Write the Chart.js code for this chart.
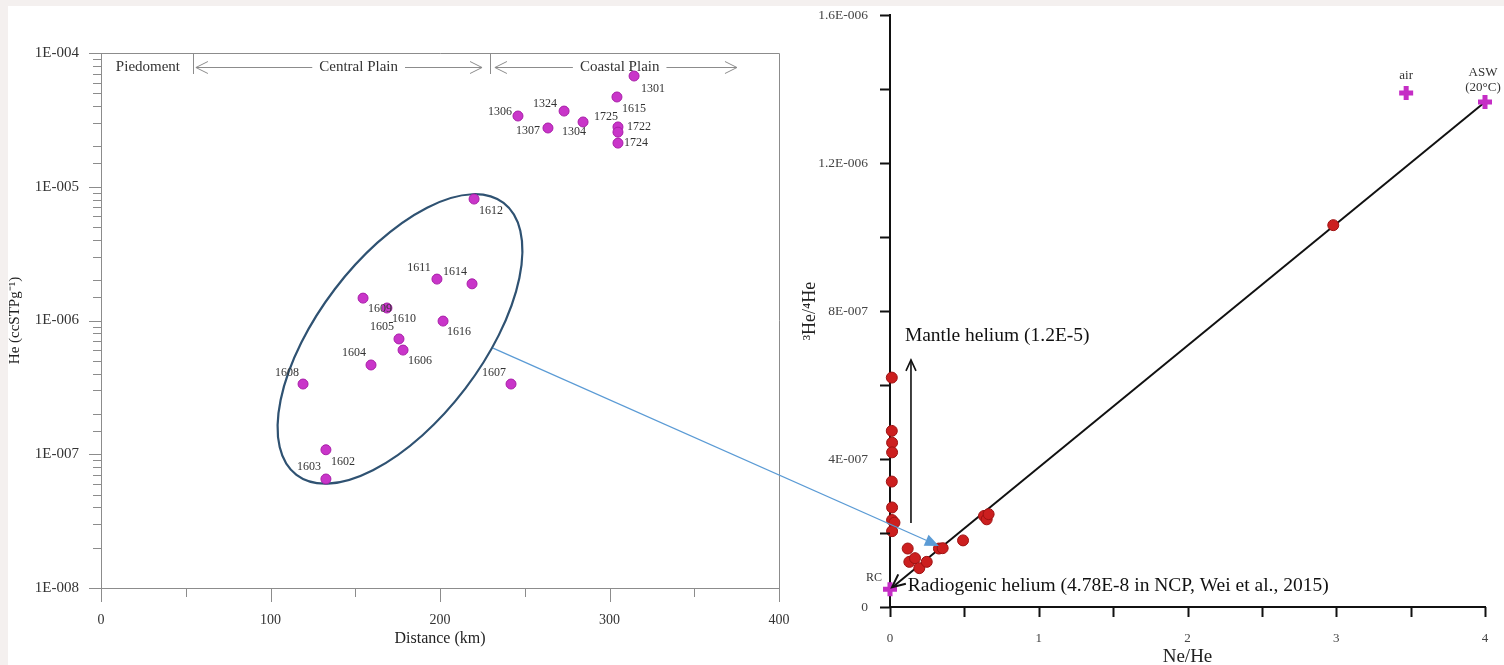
<!DOCTYPE html>
<html>
<head>
<meta charset="utf-8">
<script src="https://cdn.jsdelivr.net/npm/chart.js@4.4.0/dist/chart.umd.min.js"></script>
<style>
  html, body { margin: 0; padding: 0; background: #fff; }
  #wrap { position: relative; width: 1504px; height: 665px; overflow: hidden; background: #fff; }
  #topband { position: absolute; left: 0; top: 0; width: 1504px; height: 6px; background: #f4f0ef; }
  #leftband { position: absolute; left: 0; top: 0; width: 8px; height: 665px; background: #f4f0ef; }
  #heChart { position: absolute; left: 0; top: 0; }
  #neChart { position: absolute; left: 790px; top: 0; }
  #link { position: absolute; left: 0; top: 0; pointer-events: none; }
</style>
</head>
<body>
<div id="wrap">
  <div id="topband"></div>
  <div id="leftband"></div>
  <canvas id="heChart" width="800" height="665"></canvas>
  <canvas id="neChart" width="714" height="665"></canvas>
  <canvas id="link" width="1504" height="665"></canvas>
</div>
<script>
// ---- left panel: He concentration vs distance ----
const sampleIds = ["1301", "1615", "1324", "1306", "1304", "1307", "1725", "1722", "1724",
  "1612", "1611", "1614", "1609", "1610", "1616", "1605", "1606", "1604", "1608", "1607", "1602", "1603"];
const distanceKm = [314.5, 304.4, 273.2, 246.0, 284.4, 263.7, 305.0, 305.0, 305.0,
  220.1, 198.2, 218.9, 154.6, 168.7, 201.8, 175.8, 178.2, 159.3, 119.2, 241.9, 132.7, 132.7];
const heConc = [6.73e-5, 4.69e-5, 3.68e-5, 3.38e-5, 3.05e-5, 2.75e-5, 2.80e-5, 2.56e-5, 2.12e-5,
  8.09e-6, 2.04e-6, 1.88e-6, 1.47e-6, 1.24e-6, 9.9e-7, 7.28e-7, 6.01e-7, 4.65e-7, 3.35e-7, 3.35e-7, 1.08e-7, 6.53e-8];

const regionNames = ["Piedoment", "Central Plain", "Coastal Plain"];
const regionBounds = [54.3, 229.5]; // km

// ---- right panel: 3He/4He vs Ne/He ----
const neHe = [0.012, 0.012, 0.014, 0.014, 0.012, 0.014, 0.014, 0.03, 0.014,
  0.119, 0.130, 0.168, 0.197, 0.247, 0.329, 0.354, 0.491, 0.632, 0.650, 0.663, 2.98];
const he3he4 = [6.2e-7, 4.76e-7, 4.44e-7, 4.18e-7, 3.39e-7, 2.69e-7, 2.35e-7, 2.28e-7, 2.05e-7,
  1.58e-7, 1.22e-7, 1.32e-7, 1.05e-7, 1.22e-7, 1.58e-7, 1.59e-7, 1.80e-7, 2.46e-7, 2.37e-7, 2.51e-7, 1.032e-6];

const endNames = ["RC", "air", "ASW"];
const endNeHe = [0, 3.47, 4.0];
const endHe3he4 = [4.78e-8, 1.389e-6, 1.365e-6];

const mantleArrow = { x: 0.141, from: 2.27e-7, to: 6.68e-7 };

// ---- layout bits (pixels / styling, kept apart from the data) ----
const serif = "'Liberation Serif', 'Times New Roman', serif";
const labelOffsets = [[19, 13], [17, 12], [-19, -7], [-18, -4], [-9, 10], [-20, 3], [-12, -10], [21, -5], [18, 0],
  [17, 12], [-18, -11], [-17, -12], [17, 11], [17, 11], [16, 11], [-17, -12], [17, 11], [-17, -12], [-16, -11],
  [-17, -11], [17, 12], [-17, -12]];
const regionTextX = [27.7, 152, 306];
const regionArrows = [null, [56, 224.8], [232.4, 375.2]];
const ellipseCenter = [176.4, 7.28e-7];
const ellipseTip = [237.5, 7.56e-6];
const ellipseRatio = 0.48;
const linkFrom = [231.3, 6.22e-7];
const linkTo = [0.329, 1.65e-7];

function sciFmt(v) {
  if (v === 0) return "0";
  const parts = Number(v.toPrecision(2)).toExponential().split("e");
  const exp = parseInt(parts[1], 10);
  return parts[0] + "E" + (exp < 0 ? "-" : "+") + String(Math.abs(exp)).padStart(3, "0");
}

function isDecade(v) {
  const e = Math.log10(v);
  return Math.abs(e - Math.round(e)) < 1e-6;
}

// fixed axis boxes, no extra label padding pushed into the layout
function fixBox(size) {
  return function (s) {
    if (s.isHorizontal()) s.height = size; else s.width = size;
    s.paddingLeft = s.paddingRight = s.paddingTop = s.paddingBottom = 0;
  };
}

function chevron(ctx, tx, ty, ang, len, half) {
  const bx = tx - Math.cos(ang) * len, by = ty - Math.sin(ang) * len;
  const nx = -Math.sin(ang) * half, ny = Math.cos(ang) * half;
  ctx.beginPath();
  ctx.moveTo(bx + nx, by + ny);
  ctx.lineTo(tx, ty);
  ctx.lineTo(bx - nx, by - ny);
  ctx.stroke();
}

const tickMarks = {
  id: "tickMarks",
  afterDraw(chart, args, opts) {
    const ctx = chart.ctx;
    const { x, y } = chart.scales;
    ctx.save();
    ctx.strokeStyle = opts.color;
    ctx.lineWidth = opts.width;
    x.ticks.forEach(t => {
      const px = Math.round(x.getPixelForValue(t.value)) + 0.5;
      ctx.beginPath();
      ctx.moveTo(px, x.top);
      ctx.lineTo(px, x.top + opts.xLen(t.value));
      ctx.stroke();
    });
    y.ticks.forEach(t => {
      const py = Math.round(y.getPixelForValue(t.value)) + 0.5;
      ctx.beginPath();
      ctx.moveTo(y.right, py);
      ctx.lineTo(y.right - opts.yLen(t.value), py);
      ctx.stroke();
    });
    ctx.restore();
  }
};

const heDecor = {
  id: "heDecor",
  beforeDatasetsDraw(chart) {
    const ctx = chart.ctx;
    const xs = chart.scales.x, ys = chart.scales.y;
    const area = chart.chartArea;
    ctx.save();
    // frame top / right
    ctx.strokeStyle = "#8c8c8c";
    ctx.lineWidth = 1;
    ctx.beginPath();
    ctx.moveTo(area.left, area.top + 0.5);
    ctx.lineTo(area.right + 0.5, area.top + 0.5);
    ctx.lineTo(area.right + 0.5, area.bottom);
    ctx.stroke();

    // region strip
    const rowY = area.top + 14;
    regionBounds.forEach(b => {
      const px = Math.round(xs.getPixelForValue(b)) + 0.5;
      ctx.beginPath();
      ctx.moveTo(px, area.top);
      ctx.lineTo(px, area.top + 21);
      ctx.stroke();
    });
    ctx.font = "15px " + serif;
    ctx.fillStyle = "#333";
    ctx.textAlign = "center";
    ctx.textBaseline = "middle";
    regionNames.forEach((name, i) => {
      const tx = xs.getPixelForValue(regionTextX[i]);
      ctx.fillText(name, tx, rowY);
      const arr = regionArrows[i];
      if (!arr) return;
      const w = ctx.measureText(name).width / 2 + 7;
      const a0 = xs.getPixelForValue(arr[0]), a1 = xs.getPixelForValue(arr[1]);
      ctx.strokeStyle = "#8c8c8c";
      ctx.lineWidth = 1;
      ctx.beginPath();
      ctx.moveTo(a0, rowY + 0.5); ctx.lineTo(tx - w, rowY + 0.5);
      ctx.moveTo(tx + w, rowY + 0.5); ctx.lineTo(a1, rowY + 0.5);
      ctx.stroke();
      chevron(ctx, a0, rowY + 0.5, Math.PI, 12, 6);
      chevron(ctx, a1, rowY + 0.5, 0, 12, 6);
    });

    // cluster ellipse
    const c = { x: xs.getPixelForValue(ellipseCenter[0]), y: ys.getPixelForValue(ellipseCenter[1]) };
    const e = { x: xs.getPixelForValue(ellipseTip[0]), y: ys.getPixelForValue(ellipseTip[1]) };
    const a = Math.hypot(e.x - c.x, e.y - c.y);
    ctx.strokeStyle = "#2f5272";
    ctx.lineWidth = 2.2;
    ctx.beginPath();
    ctx.ellipse(c.x, c.y, a, a * ellipseRatio, Math.atan2(e.y - c.y, e.x - c.x), 0, Math.PI * 2);
    ctx.stroke();
    ctx.restore();
  },
  afterDatasetsDraw(chart) {
    const ctx = chart.ctx;
    const meta = chart.getDatasetMeta(0);
    ctx.save();
    ctx.font = "12px " + serif;
    ctx.fillStyle = "#333";
    ctx.textAlign = "center";
    ctx.textBaseline = "middle";
    meta.data.forEach((pt, i) => {
      ctx.fillText(sampleIds[i], pt.x + labelOffsets[i][0], pt.y + labelOffsets[i][1]);
    });
    ctx.restore();
  }
};

const heChart = new Chart(document.getElementById("heChart"), {
  type: "scatter",
  data: {
    datasets: [{
      data: distanceKm.map((d, i) => ({ x: d, y: heConc[i] })),
      backgroundColor: "#c935c9",
      borderColor: "#a81fa8",
      borderWidth: 1,
      pointRadius: 5,
      clip: false
    }]
  },
  options: {
    responsive: false,
    animation: false,
    layout: { padding: { left: 0, top: 53, right: 21, bottom: 0 } },
    plugins: {
      legend: { display: false },
      tooltip: { enabled: false },
      tickMarks: {
        color: "#8c8c8c", width: 1,
        xLen: v => (v % 100 === 0 ? 14 : 9),
        yLen: v => (isDecade(v) ? 12 : 8)
      }
    },
    scales: {
      x: {
        type: "linear", min: 0, max: 400,
        afterFit: fixBox(77),
        grid: { display: false, drawTicks: false },
        border: { display: true, color: "#8c8c8c", width: 1 },
        ticks: {
          stepSize: 50, autoSkip: false, maxRotation: 0, padding: 24,
          color: "#333", font: { family: serif, size: 14 },
          callback: v => (v % 100 === 0 ? String(v) : "")
        },
        title: { display: true, text: "Distance (km)", color: "#222", font: { family: serif, size: 16 }, padding: { top: 0, bottom: 17 } }
      },
      y: {
        type: "logarithmic", min: 1e-8, max: 1e-4,
        afterFit: fixBox(101),
        grid: { display: false, drawTicks: false },
        border: { display: true, color: "#8c8c8c", width: 1 },
        ticks: {
          autoSkip: false, padding: 22,
          color: "#333", font: { family: serif, size: 15 },
          callback: v => (isDecade(v) ? sciFmt(v) : "")
        },
        title: { display: true, text: "He (ccSTPg⁻¹)", color: "#222", font: { family: serif, size: 15 }, padding: { top: 6, bottom: 0 } }
      }
    }
  },
  plugins: [tickMarks, heDecor]
});

const neDecor = {
  id: "neDecor",
  afterDatasetsDraw(chart) {
    const ctx = chart.ctx;
    const xs = chart.scales.x, ys = chart.scales.y;
    ctx.save();
    ctx.strokeStyle = "#111";
    ctx.fillStyle = "#111";

    // arrow head of mixing line, pointing to RC
    const rc = { x: xs.getPixelForValue(endNeHe[0]), y: ys.getPixelForValue(endHe3he4[0]) };
    const asw = { x: xs.getPixelForValue(endNeHe[2]), y: ys.getPixelForValue(endHe3he4[2]) };
    ctx.lineWidth = 2;
    chevron(ctx, rc.x + 2, rc.y - 2, Math.atan2(rc.y - asw.y, rc.x - asw.x), 13, 6);

    // mantle arrow
    const mx = xs.getPixelForValue(mantleArrow.x);
    const my0 = ys.getPixelForValue(mantleArrow.from), my1 = ys.getPixelForValue(mantleArrow.to);
    ctx.lineWidth = 1.6;
    ctx.beginPath();
    ctx.moveTo(mx, my0);
    ctx.lineTo(mx, my1);
    ctx.stroke();
    chevron(ctx, mx, my1, -Math.PI / 2, 11, 5);

    ctx.textBaseline = "middle";
    ctx.textAlign = "left";
    ctx.font = "19.5px " + serif;
    ctx.fillText("Mantle helium (1.2E-5)", xs.getPixelForValue(0.10), ys.getPixelForValue(7.32e-7));
    ctx.fillText("Radiogenic helium (4.78E-8 in NCP, Wei et al., 2015)", xs.getPixelForValue(0.12), ys.getPixelForValue(5.68e-8));

    // end-member labels
    ctx.font = "12px " + serif;
    ctx.fillStyle = "#333";
    ctx.textAlign = "right";
    ctx.fillText(endNames[0], rc.x - 8, rc.y - 11);
    ctx.textAlign = "center";
    ctx.font = "13px " + serif;
    const air = { x: xs.getPixelForValue(endNeHe[1]), y: ys.getPixelForValue(endHe3he4[1]) };
    ctx.fillText(endNames[1], air.x, air.y - 17);
    ctx.fillText(endNames[2], asw.x - 2, asw.y - 29);
    ctx.fillText("(20°C)", asw.x - 2, asw.y - 14);
    ctx.restore();
  }
};

const neChart = new Chart(document.getElementById("neChart"), {
  type: "scatter",
  data: {
    datasets: [
      {
        data: neHe.map((v, i) => ({ x: v, y: he3he4[i] })),
        backgroundColor: "#cc1f1f",
        borderColor: "#9e1212",
        borderWidth: 1,
        pointRadius: 5.5,
        clip: false
      },
      {
        data: endNeHe.map((v, i) => ({ x: v, y: endHe3he4[i] })),
        pointStyle: "cross",
        pointRadius: 7,
        borderWidth: 5,
        borderColor: "#c52dc5",
        backgroundColor: "#c52dc5",
        clip: false
      },
      {
        type: "line",
        data: [{ x: endNeHe[0], y: endHe3he4[0] }, { x: endNeHe[2], y: endHe3he4[2] }],
        borderColor: "#111",
        borderWidth: 2,
        pointRadius: 0,
        fill: false,
        clip: false
      }
    ]
  },
  options: {
    responsive: false,
    animation: false,
    layout: { padding: { left: 0, top: 15, right: 19, bottom: 0 } },
    plugins: {
      legend: { display: false },
      tooltip: { enabled: false },
      tickMarks: { color: "#111", width: 2, xLen: () => 10, yLen: () => 10 }
    },
    scales: {
      x: {
        type: "linear", min: 0, max: 4,
        afterFit: fixBox(58),
        grid: { display: false, drawTicks: false },
        border: { display: true, color: "#111", width: 2 },
        ticks: {
          stepSize: 0.5, autoSkip: false, maxRotation: 0, padding: 24,
          color: "#444", font: { family: serif, size: 13 },
          callback: v => (Math.abs(v - Math.round(v)) < 1e-9 ? String(Math.round(v)) : "")
        },
        title: { display: true, text: "Ne/He", color: "#222", font: { family: serif, size: 19, lineHeight: 0.8 }, padding: { top: 0, bottom: 0 } }
      },
      y: {
        type: "linear", min: 0, max: 1.6e-6,
        afterFit: fixBox(100),
        grid: { display: false, drawTicks: false },
        border: { display: true, color: "#111", width: 2 },
        ticks: {
          stepSize: 2e-7, autoSkip: false, padding: 22,
          color: "#444", font: { family: serif, size: 13.5 },
          callback: v => (Math.round(v / 2e-7) % 2 === 0 ? sciFmt(v) : "")
        },
        title: { display: true, text: "³He/⁴He", color: "#222", font: { family: serif, size: 18 }, padding: { top: 9, bottom: 0 } }
      }
    }
  },
  plugins: [tickMarks, neDecor]
});

// connector from the ellipse to the cluster on the right panel
(function drawLink() {
  const ctx = document.getElementById("link").getContext("2d");
  const p0 = { x: heChart.scales.x.getPixelForValue(linkFrom[0]), y: heChart.scales.y.getPixelForValue(linkFrom[1]) };
  const p1 = { x: neChart.scales.x.getPixelForValue(linkTo[0]) + 790, y: neChart.scales.y.getPixelForValue(linkTo[1]) };
  const ang = Math.atan2(p1.y - p0.y, p1.x - p0.x);
  const len = 14, half = 6;
  const bx = p1.x - Math.cos(ang) * len, by = p1.y - Math.sin(ang) * len;
  ctx.strokeStyle = "#5b9bd5";
  ctx.fillStyle = "#5b9bd5";
  ctx.lineWidth = 1.3;
  ctx.beginPath();
  ctx.moveTo(p0.x, p0.y);
  ctx.lineTo(bx, by);
  ctx.stroke();
  ctx.beginPath();
  ctx.moveTo(p1.x, p1.y);
  ctx.lineTo(bx - Math.sin(ang) * half, by + Math.cos(ang) * half);
  ctx.lineTo(bx + Math.sin(ang) * half, by - Math.cos(ang) * half);
  ctx.closePath();
  ctx.fill();
})();
</script>
</body>
</html>
